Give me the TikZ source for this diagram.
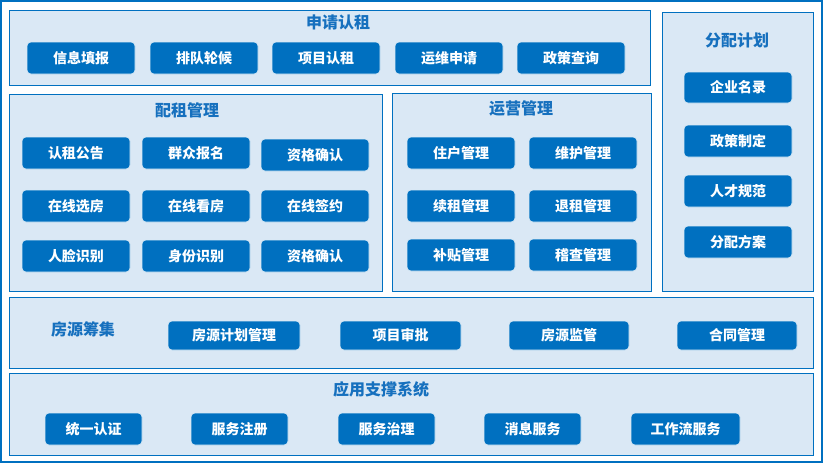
\documentclass[tikz,border=0pt]{standalone}
\usepackage{fontspec}
\setmainfont{Noto Sans CJK SC}
\usepackage{tikz}
\usetikzlibrary{positioning}
\definecolor{edge}{HTML}{0070C0}
\definecolor{pane}{HTML}{DAE8F5}
\definecolor{head}{HTML}{1670BE}
\tikzset{
  panel/.style={draw=edge,fill=pane,line width=1pt},
  ptitle/.style={text=head,font=\bfseries\fontsize{16}{18}\selectfont,inner sep=0pt},
  btn/.style={fill=edge,draw=white!85!edge,line width=0.6pt,rounded corners=4pt,
    text=white,font=\bfseries\fontsize{14}{16}\selectfont,
    minimum width=108pt,minimum height=32pt,inner sep=0pt},
}

\begin{document}
\begin{tikzpicture}[x=1pt,y=-1pt]
\useasboundingbox (0,0) rectangle (823,463);
\fill[white] (0,0) rectangle (823,463);
\draw[edge,line width=2pt] (1,1) rectangle (822,462);

% top band
\draw[panel] (9,10) rectangle (650,85);
\node[ptitle] (tApply) at (338,22) {申请认租};
\node[btn] (infoFill) at (81,58) {信息填报};
\node[btn] (queue) at (204,58) {排队轮候};
\node[btn] (projRent) at (326,58) {项目认租};
\node[btn] (opsReq) at (449,58) {运维申请};
\node[btn] (policyQry) at (571,58) {政策查询};

% allocation plan
\draw[panel] (662,12) rectangle (813,291);
\node[ptitle] (tPlan) at (737,40) {分配计划};
\node[btn,minimum height=31pt] (firmList) at (738,87.5) {企业名录};
\node[btn] (policyMake) at (738,141) {政策制定};
\node[btn] (talentRule) at (738,191) {人才规范};
\node[btn] (allocPlan) at (738,242) {分配方案};

% lease allocation
\draw[panel] (9,94) rectangle (382,291);
\node[ptitle] (tLease) at (187,110) {配租管理};
\node[btn] (notice) at (76,153) {认租公告};
\node[btn] (signup) at (196,153) {群众报名};
\node[btn] (qualA) at (315,155) {资格确认};
\node[btn] (pickRoom) at (76,206) {在线选房};
\node[btn] (viewRoom) at (196,206) {在线看房};
\node[btn] (signOn) at (315,206) {在线签约};
\node[btn] (faceId) at (76,256) {人脸识别};
\node[btn] (idCheck) at (196,256) {身份识别};
\node[btn] (qualB) at (315,256) {资格确认};

% operations
\draw[panel] (392,93) rectangle (651,291);
\node[ptitle] (tOps) at (521,108) {运营管理};
\node[btn] (tenant) at (461,153) {住户管理};
\node[btn] (repair) at (583,153) {维护管理};
\node[btn] (renew) at (461,206) {续租管理};
\node[btn] (quit) at (583,206) {退租管理};
\node[btn] (subsidy) at (461,255) {补贴管理};
\node[btn] (audit) at (583,255) {稽查管理};

% housing supply
\draw[panel] (9,297) rectangle (813,368);
\node[ptitle] (tHouse) at (83,329) {房源筹集};
\node[btn,minimum width=132pt,minimum height=29pt] (srcPlan) at (234,335.5) {房源计划管理};
\node[btn,minimum width=121pt,minimum height=29pt] (projOk) at (400.5,335.5) {项目审批};
\node[btn,minimum width=120pt,minimum height=29pt] (srcWatch) at (569,335.5) {房源监管};
\node[btn,minimum width=120pt,minimum height=29pt] (contract) at (737,335.5) {合同管理};

% support system
\draw[panel] (9,373) rectangle (813,455);
\node[ptitle] (tBase) at (381,389) {应用支撑系统};
\node[btn,minimum width=97pt] (sso) at (93.5,429) {统一认证};
\node[btn,minimum width=97pt] (svcReg) at (239.5,429) {服务注册};
\node[btn,minimum width=97pt] (svcGov) at (386.5,429) {服务治理};
\node[btn,minimum width=97pt] (msgSvc) at (532.5,429) {消息服务};
\node[btn,minimum width=109pt] (flowSvc) at (685.5,429) {工作流服务};
\end{tikzpicture}
\end{document}
